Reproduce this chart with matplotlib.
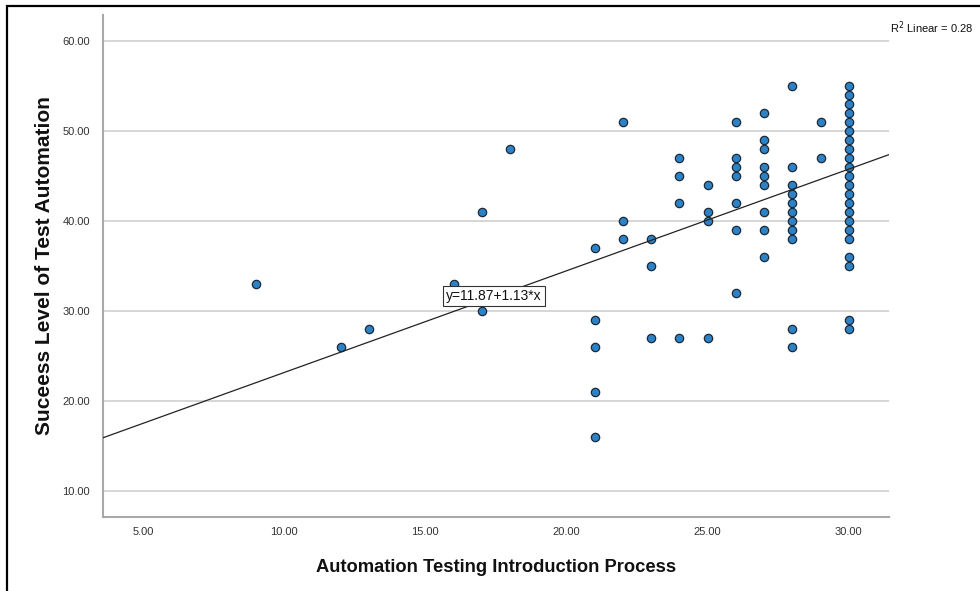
import matplotlib.pyplot as plt
from matplotlib.patches import Rectangle

plt.rcParams['font.family'] = ['Liberation Sans', 'DejaVu Sans']

# Puntajes por caso (proceso de introducción vs. nivel de éxito)
proceso = [9, 12, 13, 16, 17, 17, 18,
           21, 21, 21, 21, 21,
           22, 22, 22,
           23, 23, 23,
           24, 24, 24, 24,
           25, 25, 25, 25,
           26, 26, 26, 26, 26, 26, 26,
           27, 27, 27, 27, 27, 27, 27, 27, 27,
           28, 28, 28, 28, 28, 28, 28, 28, 28, 28, 28,
           29, 29,
           30, 30, 30, 30, 30, 30, 30, 30, 30, 30, 30, 30, 30, 30, 30, 30, 30, 30,
           30, 30, 30, 30]
exito = [33, 26, 28, 33, 30, 41, 48,
         37, 29, 26, 21, 16,
         51, 40, 38,
         38, 35, 27,
         47, 45, 42, 27,
         44, 41, 40, 27,
         51, 47, 46, 45, 42, 39, 32,
         52, 49, 48, 46, 45, 44, 41, 39, 36,
         55, 46, 44, 43, 42, 41, 40, 39, 38, 28, 26,
         51, 47,
         55, 54, 53, 52, 51, 50, 49, 48, 47, 46, 45, 44, 43, 42, 41, 40, 39, 38,
         36, 35, 29, 28]

# Recta de ajuste lineal
b0 = 11.87
b1 = 1.13
r2 = 0.28

xticks = [5, 10, 15, 20, 25, 30]
yticks = [10, 20, 30, 40, 50, 60]

fig = plt.figure(figsize=(9.8, 5.91), dpi=100)
ax = fig.add_axes([0.1051, 0.1252, 0.802, 0.8494])

xmin, xmax = 3.58, 31.42
ax.set_xlim(xmin, xmax)
ax.set_ylim(7.11, 62.89)

ax.scatter(proceso, exito, s=36, color='#2d82c5', edgecolor='#1b2a3a',
           linewidth=0.9, zorder=3)

ax.plot([xmin, xmax], [b0 + b1 * xmin, b0 + b1 * xmax], color='#222222',
        lw=0.9, zorder=4)

ax.text(17.43, 31.67, f'y={b0:.2f}+{b1:.2f}*x', fontsize=10, ha='center',
        va='center', color='#111111', zorder=5,
        bbox=dict(boxstyle='square,pad=0.22', facecolor='white',
                  edgecolor='#333333', linewidth=0.8))

ax.set_xticks(xticks)
ax.set_yticks(yticks)
ax.set_xticklabels([f'{t:.2f}' for t in xticks])
ax.set_yticklabels([f'{t:.2f}' for t in yticks])
ax.tick_params(axis='both', length=0, labelsize=8, colors='#333333')
ax.tick_params(axis='y', pad=9.5)
ax.tick_params(axis='x', pad=7)

ax.grid(axis='y', color='#cfcfcf', lw=1.2, zorder=0)
ax.set_axisbelow(True)
for s in ['top', 'right']:
    ax.spines[s].set_visible(False)
for s in ['left', 'bottom']:
    ax.spines[s].set_color('#a8a8a8')
    ax.spines[s].set_linewidth(1.5)

ax.set_xlabel('Automation Testing Introduction Process', fontsize=13.2,
              fontweight='bold', color='#111111', labelpad=16)
ax.set_ylabel('Suceess Level of Test Automation', fontsize=15,
              fontweight='bold', color='#111111', labelpad=6)

fig.text(0.908, 0.953, f'R$^2$ Linear = {r2:.2f}', fontsize=8,
         ha='left', va='center', color='#111111')

# Marco exterior
fig.add_artist(Rectangle((7 / 980, -0.1), 2, 1 - 6 / 591 + 0.1,
                         transform=fig.transFigure, fill=False,
                         lw=1.6, edgecolor='black'))

fig.savefig('out.png', dpi=100)
